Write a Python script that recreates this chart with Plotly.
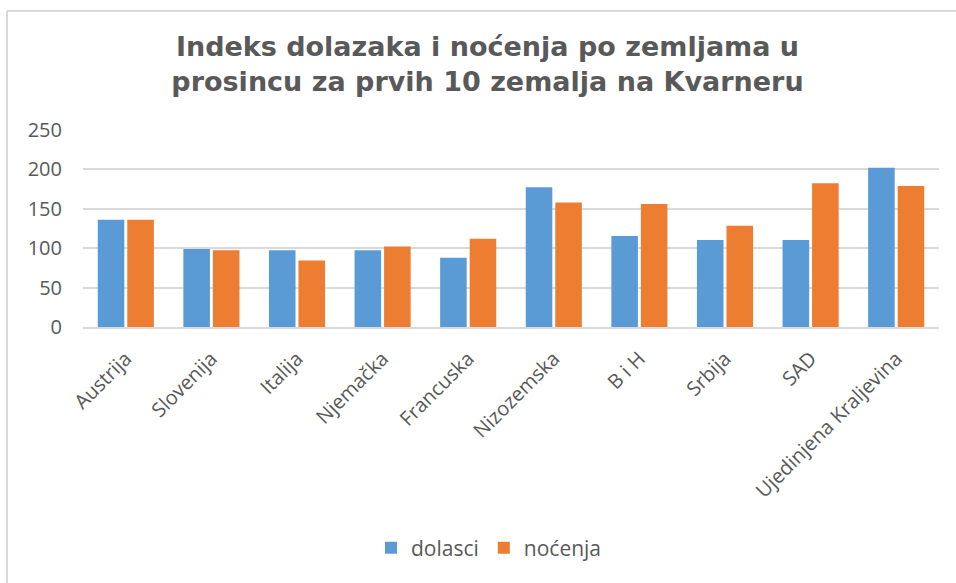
import plotly.graph_objects as go

categories = ["Austrija", "Slovenija", "Italija", "Njemačka", "Francuska",
              "Nizozemska", "B i H", "Srbija", "SAD", "Ujedinjena Kraljevina"]
dolasci = [136, 99, 97.5, 97.5, 88, 177.5, 115.5, 110.5, 110.5, 202]
nocenja = [136, 97.5, 84.5, 102, 112, 158, 156, 128.5, 182.5, 179]
y_ticks = [0, 50, 100, 150, 200, 250]

title_text = "Indeks dolazaka i noćenja po zemljama u<br>prosincu za prvih 10 zemalja na Kvarneru"

gray = "#595959"
font_main = "Open Sans, Lato, sans-serif"

fig = go.Figure()
fig.add_trace(go.Bar(name="dolasci", x=categories, y=dolasci,
                     marker=dict(color="#5B9BD5", line=dict(width=0))))
fig.add_trace(go.Bar(name="noćenja", x=categories, y=nocenja,
                     marker=dict(color="#ED7D31", line=dict(width=0))))

W, H = 956, 583
l, r, t, b = 83, 17, 130, 256
pw = W - l - r
ph = H - t - b

def px_to_paper_x(px):
    return (px - l) / pw

def py_to_paper_y(py):
    return (H - b - py) / ph

fig.update_layout(
    width=W, height=H,
    margin=dict(l=l, r=r, t=t, b=b, autoexpand=False),
    paper_bgcolor="white", plot_bgcolor="white",
    barmode="group", bargap=0.31, bargroupgap=0.1,
    title=dict(text=title_text, x=487.5 / W, xref="container", xanchor="center",
               y=1 - 56 / H, yref="container", yanchor="middle",
               font=dict(family="DejaVu Sans, Verdana, sans-serif", size=27,
                         color=gray, weight="bold")),
    font=dict(family=font_main, color=gray),
    showlegend=True,
    legend=dict(orientation="h", x=489 / W, xref="container", xanchor="center",
                y=1 - 548 / H, yref="container", yanchor="middle",
                font=dict(size=21, color=gray, family=font_main),
                itemwidth=30, traceorder="normal"),
    xaxis=dict(tickangle=-45, tickfont=dict(size=20, color=gray, family=font_main),
               showgrid=False, showline=True, linecolor="#d9d9d9", linewidth=2,
               ticks="", ticklabelstandoff=10),
    yaxis=dict(range=[0, 250], tickvals=y_ticks,
               tickfont=dict(size=20, color=gray, family=font_main),
               showgrid=True, gridcolor="#d9d9d9", gridwidth=1.5,
               zeroline=False, showline=False, ticks="",
               ticklabelstandoff=20),
    shapes=[
        dict(type="line", xref="paper", yref="paper",
             x0=px_to_paper_x(7), x1=px_to_paper_x(7),
             y0=py_to_paper_y(11), y1=py_to_paper_y(H),
             line=dict(color="#d9d9d9", width=2)),
        dict(type="line", xref="paper", yref="paper",
             x0=px_to_paper_x(7), x1=px_to_paper_x(W),
             y0=py_to_paper_y(11), y1=py_to_paper_y(11),
             line=dict(color="#d9d9d9", width=2)),
    ],
)

fig.write_html(
    "out.html",
    config={"displayModeBar": False},
    post_script="document.body.style.margin='0';document.body.style.overflow='hidden';",
)
